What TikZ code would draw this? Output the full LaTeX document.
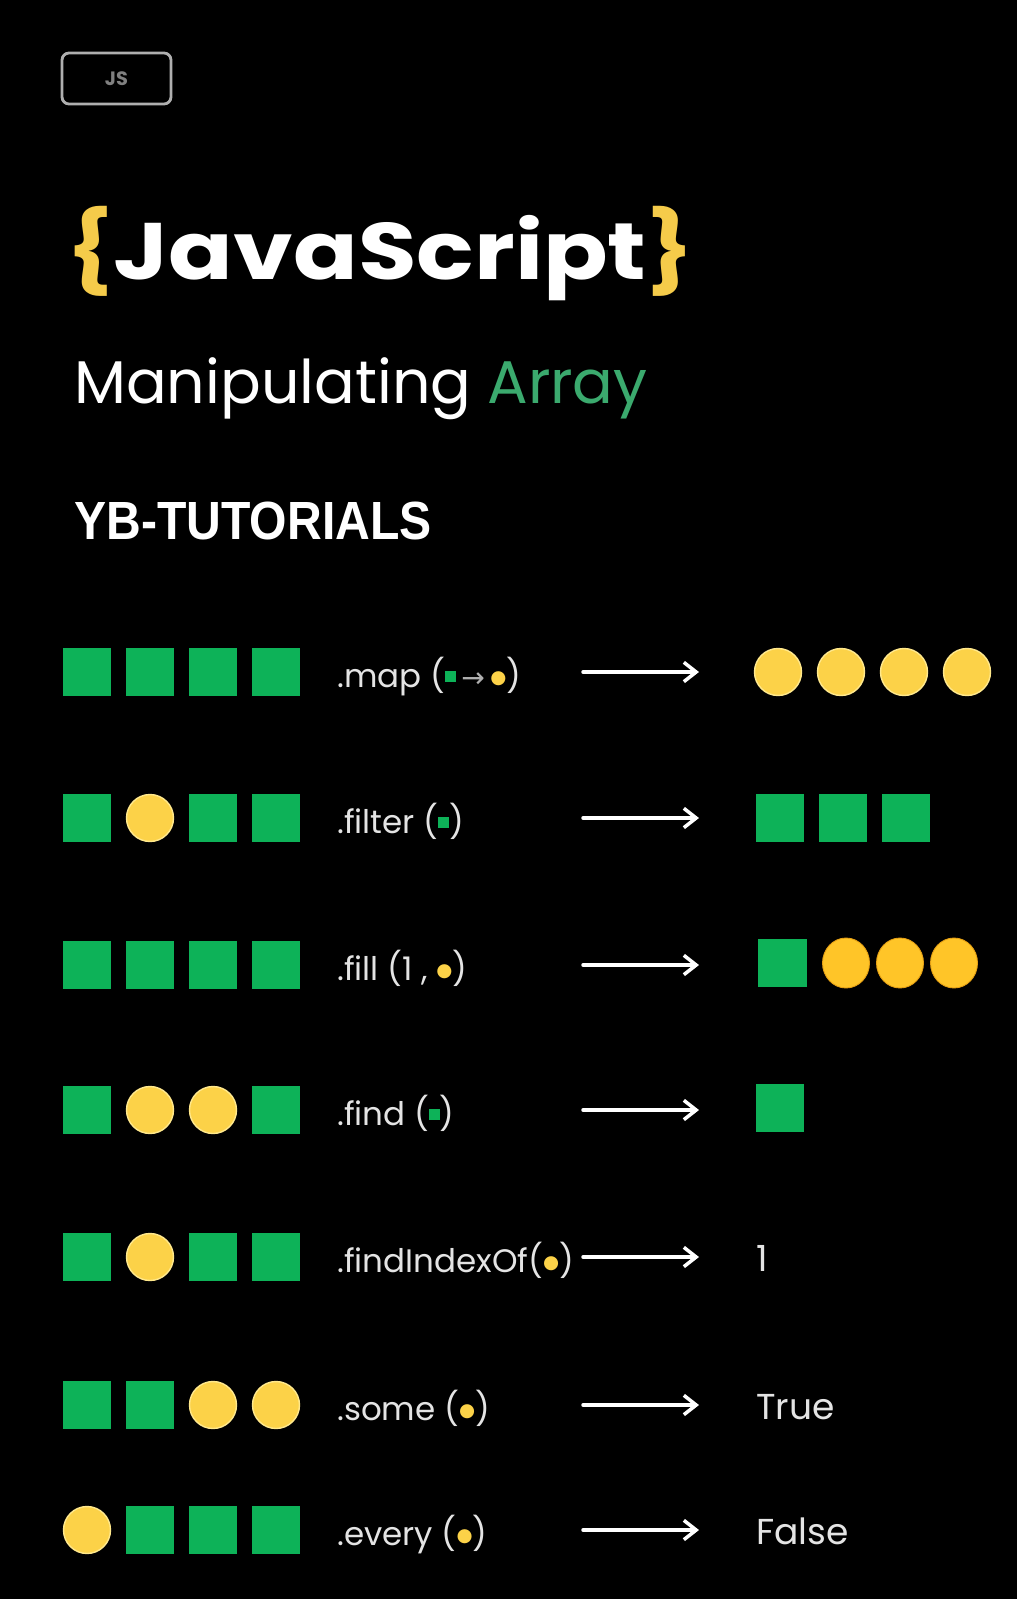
\documentclass[tikz,border=0pt]{standalone}
\usepackage{fontspec}
\usetikzlibrary{arrows.meta,shapes.geometric}
\setmainfont{Poppins}
\newfontfamily\dejavu{DejaVu Sans}
\newfontfamily\ybfont{Liberation Sans}
\definecolor{itemgreen}{RGB}{13,178,88}
\definecolor{coinyellow}{RGB}{252,210,72}
\definecolor{coinedge}{RGB}{255,232,140}
\definecolor{fillyellow}{RGB}{255,197,40}
\definecolor{filledge}{RGB}{230,160,20}
\definecolor{braceyellow}{RGB}{245,203,74}
\definecolor{arraygreen}{RGB}{59,170,110}
\definecolor{labelgray}{RGB}{228,228,228}
\definecolor{boxgray}{RGB}{175,175,175}
\newcommand\gsq{\textcolor{itemgreen}{\rule[3.1pt]{6.2pt}{6.2pt}}}
\newcommand\ydot{\raisebox{1.9pt}{\textcolor{coinyellow}{\fontsize{10.5pt}{10.5pt}\dejavu ●}}}
\newcommand\marrow{\textcolor{boxgray}{\fontsize{16pt}{16pt}\dejavu →}}
\tikzset{
  cell/.style={minimum size=0.96cm, inner sep=0pt},
  sq/.style={cell, fill=itemgreen},
  coin/.style={cell, circle, fill=coinyellow, draw=coinedge, line width=0.8pt, minimum size=0.94cm},
  egg/.style={ellipse, inner sep=0pt, minimum width=0.94cm, minimum height=1.0cm, fill=fillyellow, draw=filledge, line width=0.5pt},
  method/.style={anchor=base west, inner sep=0pt, text=labelgray, font=\fontsize{18.5pt}{20pt}\selectfont},
  result/.style={anchor=base west, inner sep=0pt, text=labelgray, font=\fontsize{20.5pt}{22pt}\selectfont},
  heading/.style={anchor=base west, inner sep=0pt, text=white},
  arrow/.style={-{Straight Barb[length=7pt,width=11pt]}, line width=2pt, white, line cap=round}
}
\begin{document}
\begin{tikzpicture}[x=0.02cm,y=-0.02cm]
  \fill[black] (0,0) rectangle (1017,1599);
  \useasboundingbox (0,0) rectangle (1017,1599);
  \node[draw=boxgray, line width=1.6pt, rounded corners=4pt, minimum width=2.18cm, minimum height=1.02cm, text=gray, font=\bfseries\fontsize{11pt}{11pt}\selectfont] (js) at (116.5,78.5) {JS};
  \node[heading, font=\bfseries\fontsize{48pt}{50pt}\selectfont] (title) at (66,279) {\scalebox{1.13}[0.95]{\textcolor{braceyellow}{\{}JavaScript\textcolor{braceyellow}{\}}}};
  \node[heading, font=\fontsize{34.3pt}{36pt}\selectfont] (subtitle) at (74,403) {Manipulating \textcolor{arraygreen}{Array}};
  \node[heading, font=\ybfont\bfseries\fontsize{30.6pt}{32pt}\selectfont] (channel) at (74,539) {\scalebox{0.895}[1]{YB-TUTORIALS}};
  \foreach \r/\y/\a/\b/\c/\d in {map/672/sq/sq/sq/sq, filter/818/sq/coin/sq/sq, fill/965/sq/sq/sq/sq, find/1110/sq/coin/coin/sq, index/1257/sq/coin/sq/sq, some/1405/sq/sq/coin/coin, every/1530/coin/sq/sq/sq} {
    \foreach \s [count=\k] in {\a,\b,\c,\d} \node[\s] (\r\k) at ({24+63*\k},\y) {};
    \coordinate (\r-s) at (583,\y);
    \coordinate (\r-e) at (699,\y);
    \draw[arrow] (\r-s) -- (\r-e);
  }
  \node[method] (mapfn) at (337,687) {.map (\gsq\,\marrow\,\ydot)};
  \node[method] (filterfn) at (337,833) {.filter (\gsq)};
  \node[method] (fillfn) at (337,980) {.fill (1 , \ydot)};
  \node[method] (findfn) at (337,1125) {.find (\gsq)};
  \node[method] (indexfn) at (337,1272) {.findIndexOf(\ydot)};
  \node[method] (somefn) at (337,1420) {.some (\ydot)};
  \node[method] (everyfn) at (337,1545) {.every (\ydot)};
  \foreach \k in {1,...,4} \node[coin] (mapout\k) at ({715+63*\k},672) {};
  \foreach \k in {1,2,3} \node[sq] (filterout\k) at ({717+63*\k},818) {};
  \node[sq, minimum width=0.98cm] (fillout1) at (782,963) {};
  \foreach \k/\x in {2/846,3/900,4/954} \node[egg] (fillout\k) at (\x,963) {};
  \node[sq] (findout) at (780,1108) {};
  \node[result] (indexout) at (756,1271) {1};
  \node[result] (someout) at (756,1419) {True};
  \node[result] (everyout) at (756,1544) {False};
\end{tikzpicture}
\end{document}
